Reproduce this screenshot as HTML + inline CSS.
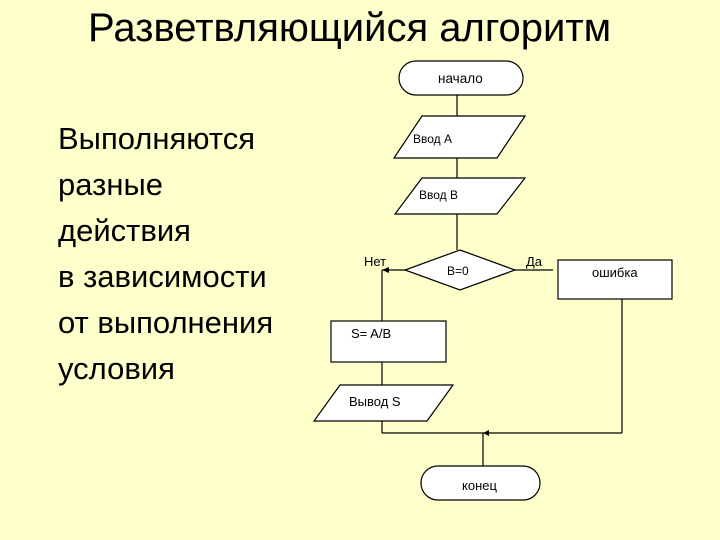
<!DOCTYPE html>
<html><head><meta charset="utf-8"><style>
html,body{margin:0;padding:0}
body{width:720px;height:540px;background:#ffffcc;position:relative;overflow:hidden;font-family:"Liberation Sans",sans-serif}
.t{position:absolute;left:88px;top:6px;font-size:40px;color:#000;white-space:nowrap}
.l{position:absolute;left:58px;top:116px;font-size:31px;line-height:46px;color:#000;white-space:nowrap}
svg{position:absolute;left:0;top:0}
</style></head><body>
<div class="t">Разветвляющийся алгоритм</div>
<div class="l">Выполняются<br>разные<br>действия<br>в зависимости<br>от выполнения<br>условия</div>
<svg width="720" height="540" font-family="Liberation Sans, sans-serif" font-size="12">
<g stroke="#000" stroke-width="1.2" fill="none">
<line x1="457" y1="95" x2="457" y2="116"/>
<line x1="457" y1="158" x2="457" y2="178"/>
<line x1="457" y1="214" x2="457" y2="250"/>
<line x1="405" y1="270" x2="382" y2="270"/>
<line x1="382" y1="270" x2="382" y2="321"/>
<line x1="515" y1="270" x2="553" y2="270"/>
<line x1="382" y1="362" x2="382" y2="385"/>
<line x1="382" y1="421" x2="382" y2="433"/>
<line x1="382" y1="433" x2="622" y2="433"/>
<line x1="622" y1="299" x2="622" y2="433"/>
<line x1="483" y1="433" x2="483" y2="466"/>
</g>
<polygon points="382,270 389,267 389,273" fill="#000"/>
<polygon points="483,433 489,430 489,436" fill="#000"/>
<g stroke="#000" stroke-width="1.2" fill="#fff">
<rect x="399" y="61" width="124" height="34" rx="17"/>
<polygon points="422,116 525,116 497,158 394,158"/>
<polygon points="422,178 525,178 497,214 395,214"/>
<polygon points="460,250 515,270 460,290 405,270"/>
<rect x="558" y="260" width="114" height="39"/>
<rect x="331" y="321" width="115" height="41"/>
<polygon points="340,385 453,385 427,421 314,421"/>
<rect x="421" y="466" width="119" height="34" rx="17"/>
</g>
<g fill="#000">
<text x="438" y="83" font-size="13.5">начало</text>
<text x="413" y="143">Ввод A</text>
<text x="419" y="199">Ввод B</text>
<text x="447" y="275">B=0</text>
<text x="364" y="266" font-size="13">Нет</text>
<text x="526" y="266" font-size="13">Да</text>
<text x="592" y="277" font-size="13">ошибка</text>
<text x="351" y="338" font-size="13">S= A/B</text>
<text x="349" y="406" font-size="13">Вывод  S</text>
<text x="462" y="490" font-size="13">конец</text>
</g>
</svg>
</body></html>
